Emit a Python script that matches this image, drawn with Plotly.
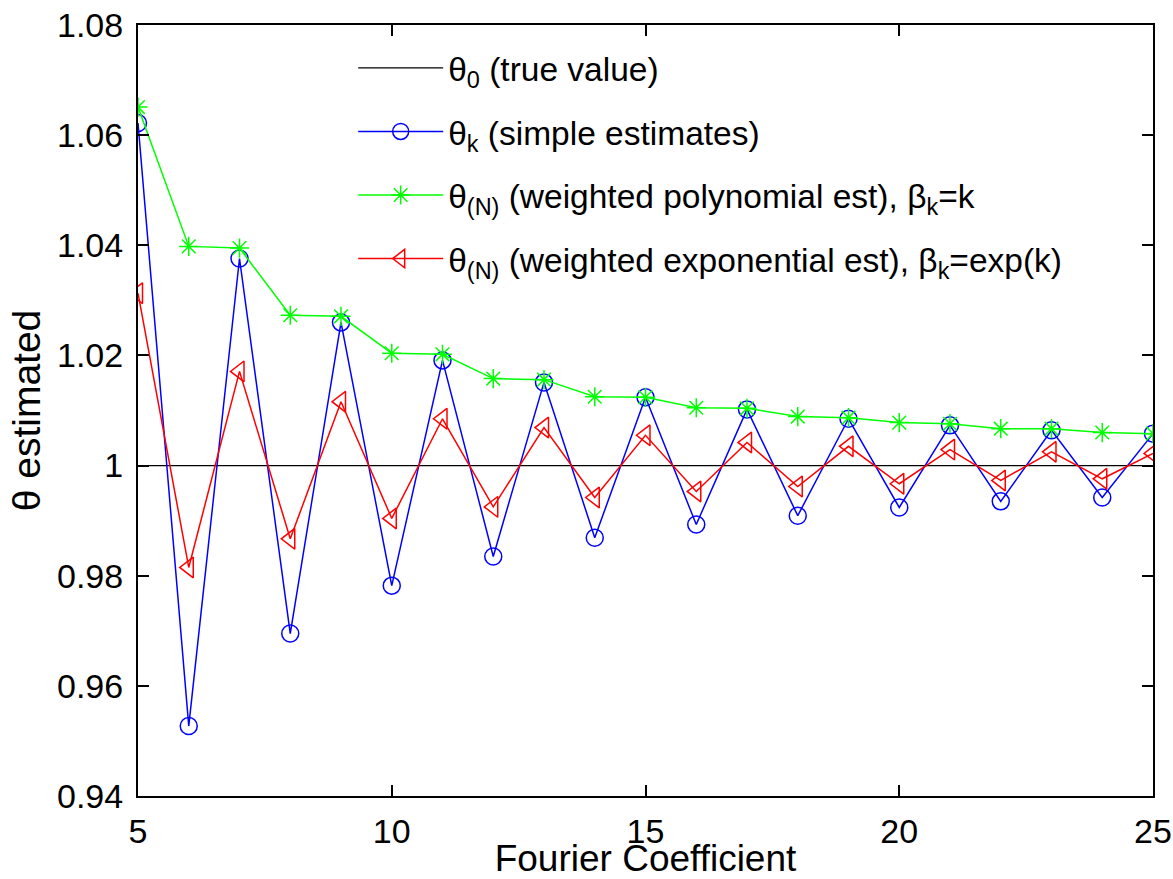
import plotly.graph_objects as go

k = list(range(5, 26))
true_value = [1.0] * len(k)
simple_est = [1.0622, 0.9527, 1.0376, 0.9695, 1.0260, 0.9782, 1.0191, 0.9835, 1.0151, 0.9869,
              1.0124, 0.9893, 1.0102, 0.9909, 1.0085, 0.9924, 1.0073, 0.9935, 1.0064, 0.9942, 1.0058]
poly_est = [1.0651, 1.0398, 1.0395, 1.0273, 1.0271, 1.0204, 1.0202, 1.0158, 1.0156, 1.0125,
            1.0124, 1.0105, 1.0104, 1.0089, 1.0087, 1.0078, 1.0076, 1.0067, 1.0067, 1.0060, 1.0058]
exp_est = [1.0313, 0.9815, 1.0171, 0.9867, 1.0116, 0.9904, 1.0085, 0.9925, 1.0069, 0.9942,
           1.0055, 0.9953, 1.0042, 0.9962, 1.0035, 0.9967, 1.0029, 0.9973, 1.0025, 0.9976, 1.0022]

y_ticks = [0.94, 0.96, 0.98, 1.0, 1.02, 1.04, 1.06, 1.08]
y_tick_text = ["0.94", "0.96", "0.98", "1", "1.02", "1.04", "1.06", "1.08"]
x_ticks = [5, 10, 15, 20, 25]

FONT = "Liberation Sans, Arial, sans-serif"

fig = go.Figure()
fig.add_trace(go.Scatter(x=k, y=true_value, mode="lines", legendgroup="g0",
                         line=dict(color="black", width=1.3),
                         name="θ<sub>0</sub> (true value)"))
fig.add_trace(go.Scatter(x=k, y=simple_est, mode="lines+markers", legendgroup="g1",
                         line=dict(color="#0000ff", width=1.5),
                         marker=dict(symbol="circle-open", size=17, color="#0000ff",
                                     line=dict(width=1.5, color="#0000ff")),
                         name="θ<sub>k</sub> (simple estimates)"))
fig.add_trace(go.Scatter(x=k, y=poly_est, mode="lines+markers", legendgroup="g2",
                         line=dict(color="#00ff00", width=1.5),
                         marker=dict(symbol="asterisk-open", size=16, color="#00ff00",
                                     line=dict(width=1.5, color="#00ff00")),
                         name="θ<sub>(N)</sub> (weighted polynomial est), β<sub>k</sub>=k"))
fig.add_trace(go.Scatter(x=k, y=exp_est, mode="lines+markers", legendgroup="g3",
                         line=dict(color="#ff0000", width=1.5),
                         marker=dict(symbol="triangle-left-open", size=18, color="#ff0000",
                                     line=dict(width=1.5, color="#ff0000")),
                         name="θ<sub>(N)</sub> (weighted exponential est), β<sub>k</sub>=exp(k)"))

axis_common = dict(showline=True, linecolor="black", linewidth=2, mirror="ticks",
                   ticks="inside", ticklen=11, tickwidth=1.5, tickcolor="black",
                   showgrid=False, zeroline=False, automargin=False,
                   tickfont=dict(family=FONT, size=34, color="black"))

fig.update_layout(
    width=1173, height=879,
    margin=dict(l=138, r=20, t=25, b=83),
    paper_bgcolor="white", plot_bgcolor="white",
    font=dict(family=FONT, color="black"),
    xaxis=dict(range=[5, 25], tickvals=x_ticks, ticklabelstandoff=4,
               title=dict(text="Fourier Coefficient", font=dict(family=FONT, size=37), standoff=3),
               **axis_common),
    yaxis=dict(range=[0.94, 1.08], tickvals=y_ticks, ticktext=y_tick_text, ticklabelstandoff=6,
               title=dict(text="θ estimated", font=dict(family=FONT, size=39), standoff=4),
               **axis_common),
    legend=dict(x=0.212, y=0.981, xanchor="left", yanchor="top",
                bgcolor="rgba(255,255,255,0)", borderwidth=0,
                font=dict(family=FONT, size=33.5, color="black"),
                itemwidth=85, tracegroupgap=17),
)

fig.write_html("out.html", config={"displayModeBar": False},
               post_script="document.body.style.margin='0';document.body.style.overflow='hidden';")
